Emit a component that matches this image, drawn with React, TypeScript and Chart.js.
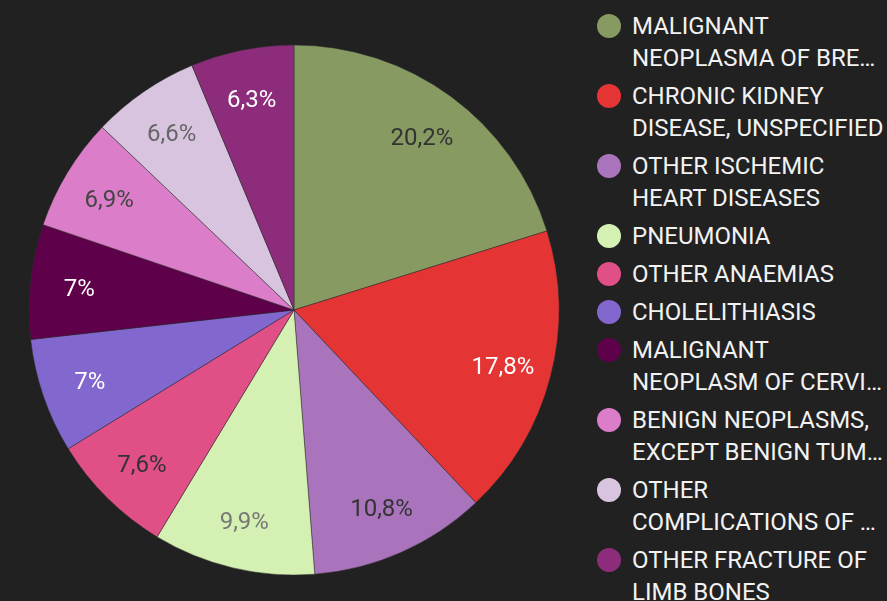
import React, { useEffect, useMemo, useRef } from "react";
import { Chart, registerables } from "chart.js";

Chart.register(...registerables);

const categories = [
  "Malignant neoplasma of breast",
  "Chronic kidney disease, unspecified",
  "Other ischemic heart diseases",
  "Pneumonia",
  "Other anaemias",
  "Cholelithiasis",
  "Malignant neoplasm of cervix uteri",
  "Benign neoplasms, except benign tumors",
  "Other complications of pregnancy",
  "Other fracture of limb bones",
];

const values = [20.2, 17.8, 10.8, 9.9, 7.6, 7.0, 7.0, 6.9, 6.6, 6.3];

const valueLabels = ["20,2%", "17,8%", "10,8%", "9,9%", "7,6%", "7%", "7%", "6,9%", "6,6%", "6,3%"];

const colors = [
  "#879a62",
  "#e53434",
  "#a974bc",
  "#d4f0b3",
  "#e04f86",
  "#8167ce",
  "#5e004a",
  "#dc7dca",
  "#d9c4df",
  "#8e2c7c",
];

const labelColors = [
  "#333333",
  "#ffffff",
  "#333333",
  "#777777",
  "#333333",
  "#ffffff",
  "#ffffff",
  "#444444",
  "#666666",
  "#ffffff",
];

const LEGEND_FONT = "24px Roboto";
const LEGEND_WRAP_WIDTH = 256;
const LEGEND_TEXT_WIDTH = 256;

function wrapLabel(text: string): [string, string] {
  const up = text.toUpperCase();
  const c = document.createElement("canvas").getContext("2d")!;
  c.font = LEGEND_FONT;
  const words = up.split(" ");
  let first = "";
  let idx = 0;
  for (; idx < words.length; idx++) {
    const test = first ? first + " " + words[idx] : words[idx];
    if (c.measureText(test).width > LEGEND_WRAP_WIDTH && first) break;
    first = test;
  }
  return [first, words.slice(idx).join(" ")];
}

const sliceLabelPlugin = {
  id: "sliceLabels",
  afterDatasetsDraw(chart: any) {
    const ctx = chart.ctx;
    const meta = chart.getDatasetMeta(0);
    ctx.save();
    ctx.font = "24px Roboto";
    ctx.textAlign = "center";
    ctx.textBaseline = "middle";
    meta.data.forEach((arc: any, i: number) => {
      const p = arc.getProps(["x", "y", "startAngle", "endAngle", "outerRadius"], true);
      const mid = (p.startAngle + p.endAngle) / 2;
      const r = p.outerRadius * 0.815;
      const x = p.x + Math.cos(mid) * r;
      const y = p.y + Math.sin(mid) * r + 3;
      ctx.fillStyle = labelColors[i];
      ctx.fillText(valueLabels[i], x, y);
    });
    ctx.restore();
  },
};

export default function App() {
  const canvasRef = useRef<HTMLCanvasElement | null>(null);
  const wrapped = useMemo(() => categories.map(wrapLabel), []);

  useEffect(() => {
    if (!canvasRef.current) return;
    const chart = new Chart(canvasRef.current, {
      type: "pie",
      data: {
        labels: categories,
        datasets: [
          {
            data: values,
            backgroundColor: colors,
            borderColor: "#2e2e2e",
            borderWidth: 0.5,
          },
        ],
      },
      options: {
        animation: false,
        responsive: false,
        maintainAspectRatio: false,
        radius: 265,
        layout: { padding: { top: 19 } },
        plugins: {
          legend: { display: false },
          tooltip: { enabled: false },
        },
      },
      plugins: [sliceLabelPlugin],
    });
    return () => chart.destroy();
  }, []);

  const lineStyle: React.CSSProperties = {
    whiteSpace: "nowrap",
    overflow: "hidden",
    textOverflow: "ellipsis",
    height: 32,
  };

  return (
    <div
      style={{
        position: "fixed",
        left: 0,
        top: 0,
        width: 887,
        height: 601,
        background: "#212121",
        overflow: "hidden",
        fontFamily: "Roboto, sans-serif",
      }}
    >
      <canvas
        ref={canvasRef}
        width={588}
        height={601}
        style={{ position: "absolute", left: 0, top: 0, width: 588, height: 601 }}
      />
      <div style={{ position: "absolute", left: 597, top: 10 }}>
        {categories.map((c, i) => (
          <div key={c} style={{ display: "flex", alignItems: "flex-start", marginBottom: 6 }}>
            <div
              style={{
                width: 24,
                height: 24,
                borderRadius: "50%",
                background: colors[i],
                marginTop: 4,
                flex: "0 0 24px",
              }}
            />
            <div
              style={{
                marginLeft: 11,
                width: LEGEND_TEXT_WIDTH,
                fontSize: 24,
                lineHeight: "32px",
                color: "#f2f2f2",
              }}
            >
              <div style={lineStyle}>{wrapped[i][0]}</div>
              {wrapped[i][1] ? <div style={lineStyle}>{wrapped[i][1]}</div> : null}
            </div>
          </div>
        ))}
      </div>
    </div>
  );
}
